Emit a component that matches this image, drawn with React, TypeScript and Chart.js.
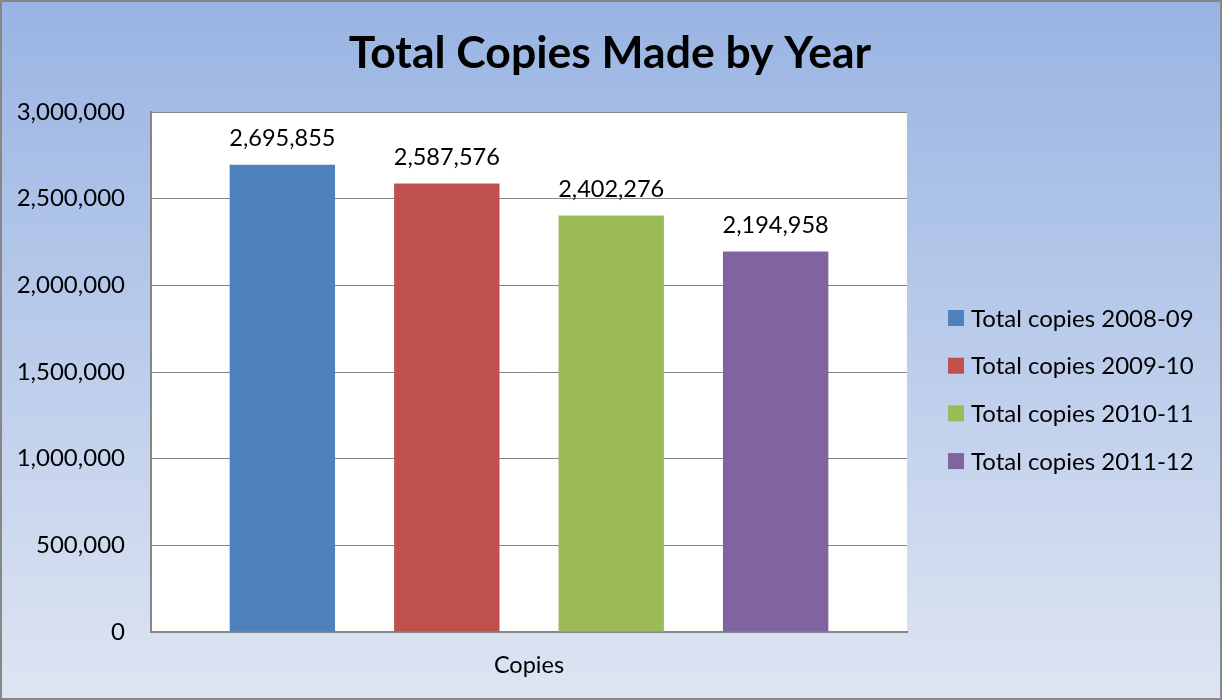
import React, { useEffect, useRef } from "react";
import { Chart, registerables } from "chart.js";

Chart.register(...registerables);

const TITLE = "Total Copies Made by Year";
const CATEGORIES = ["Copies"];
const SERIES_LABELS = [
  "Total copies 2008-09",
  "Total copies 2009-10",
  "Total copies 2010-11",
  "Total copies 2011-12",
];
const SERIES_VALUES = [2695855, 2587576, 2402276, 2194958];
const SERIES_COLORS = ["#4F81BD", "#C0504D", "#9BBB59", "#8064A2"];
const Y_MIN = 0;
const Y_MAX = 3000000;
const Y_STEP = 500000;

const FONT = "Lato, 'Noto Sans', sans-serif";
const fmt = (v: number) => v.toLocaleString("en-US");

const decorPlugin = {
  id: "decor",
  beforeDraw(chart: any) {
    const { ctx, width, height, chartArea } = chart;
    ctx.save();
    const g = ctx.createLinearGradient(0, 0, 0, height);
    g.addColorStop(0, "#99B4E3");
    g.addColorStop(0.5, "#BBCCEB");
    g.addColorStop(1, "#DEE5F2");
    ctx.fillStyle = g;
    ctx.fillRect(0, 0, width, height);
    ctx.fillStyle = "#FFFFFF";
    ctx.fillRect(chartArea.left, chartArea.top, chartArea.right - chartArea.left, chartArea.bottom - chartArea.top);
    ctx.strokeStyle = "#878787";
    ctx.lineWidth = 2;
    ctx.strokeRect(1, 1, width - 2, height - 2);
    ctx.restore();
  },
  afterDatasetsDraw(chart: any) {
    const { ctx } = chart;
    ctx.save();
    ctx.font = `23.5px ${FONT}`;
    ctx.fillStyle = "#000";
    ctx.textAlign = "center";
    ctx.textBaseline = "middle";
    chart.data.datasets.forEach((ds: any, i: number) => {
      const meta = chart.getDatasetMeta(i);
      meta.data.forEach((el: any, j: number) => {
        ctx.fillText(fmt(ds.data[j]), el.x, el.y - 26);
      });
    });
    ctx.restore();
  },
  afterDraw(chart: any) {
    const { ctx, width } = chart;
    ctx.save();
    ctx.fillStyle = "#000";
    ctx.font = `bold 44.5px ${FONT}`;
    ctx.textAlign = "center";
    ctx.textBaseline = "alphabetic";
    ctx.fillText(TITLE, width / 2 - 1, 68);

    ctx.font = `24px ${FONT}`;
    ctx.textAlign = "left";
    ctx.textBaseline = "middle";
    chart.data.datasets.forEach((ds: any, i: number) => {
      const y = 318 + i * 47.7;
      ctx.fillStyle = ds.backgroundColor;
      ctx.fillRect(948, y - 8, 16, 16);
      ctx.fillStyle = "#000";
      ctx.fillText(ds.label, 971, y + 1);
    });
    ctx.restore();
  },
};

export default function App() {
  const ref = useRef<HTMLCanvasElement | null>(null);
  useEffect(() => {
    document.body.style.margin = "0";
    const canvas = ref.current!;
    const chart = new Chart(canvas, {
      type: "bar",
      data: {
        labels: CATEGORIES,
        datasets: SERIES_LABELS.map((label, i) => ({
          label,
          data: [SERIES_VALUES[i]],
          backgroundColor: SERIES_COLORS[i],
          borderWidth: 0,
          categoryPercentage: 0.87,
          barPercentage: 0.641,
        })),
      },
      options: {
        responsive: false,
        maintainAspectRatio: false,
        animation: false,
        layout: { padding: { left: 0, top: 112, right: 315, bottom: 0 } },
        plugins: {
          legend: { display: false },
          title: { display: false },
          tooltip: { enabled: false },
        },
        scales: {
          x: {
            grid: { display: false, drawTicks: false },
            border: { display: true, color: "#868686", width: 2 },
            ticks: { color: "#000", font: { family: FONT, size: 23.5 }, padding: 19 },
            afterFit: (s: any) => { s.height = 68; },
          },
          y: {
            min: Y_MIN,
            max: Y_MAX,
            grid: { color: "#868686", lineWidth: 1, drawTicks: false },
            border: { display: true, color: "#868686", width: 2 },
            ticks: {
              stepSize: Y_STEP,
              color: "#000",
              font: { family: FONT, size: 24 },
              padding: 26,
              callback: (v: any) => fmt(Number(v)),
            },
            afterFit: (s: any) => { s.width = 151; },
          },
        },
      } as any,
      plugins: [decorPlugin],
    });
    return () => chart.destroy();
  }, []);
  return <canvas ref={ref} width={1222} height={700} style={{ display: "block" }} />;
}
